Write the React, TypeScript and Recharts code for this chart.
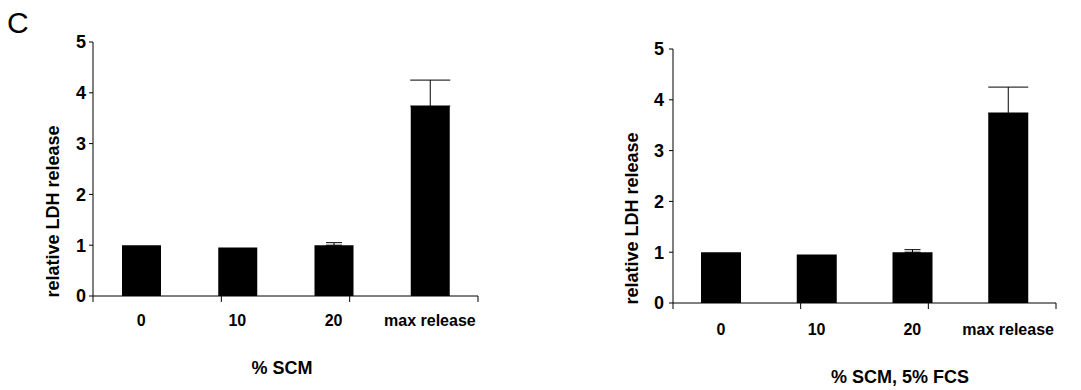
import React from 'react';
import { BarChart, Bar, XAxis, YAxis, ErrorBar } from 'recharts';

const categories = ['0', '10', '20', 'max release'];
const valuesA = [1.0, 0.955, 1.0, 3.74];
const smallErrA: (number[] | undefined)[] = [undefined, undefined, [0, 0.05], undefined];
const largeErrA: (number[] | undefined)[] = [undefined, undefined, undefined, [0, 0.51]];
const valuesB = [1.0, 0.955, 1.0, 3.74];
const smallErrB: (number[] | undefined)[] = [undefined, undefined, [0, 0.05], undefined];
const largeErrB: (number[] | undefined)[] = [undefined, undefined, undefined, [0, 0.51]];
const yTicks = [0, 1, 2, 3, 4, 5];
const boundaryTicks = [0, 1, 2, 3, 4];

const FONT = '"Liberation Sans", Arial, Helvetica, sans-serif';

const build = (vals: number[], s: (number[] | undefined)[], l: (number[] | undefined)[]) =>
  categories.map((c, i) => ({ cat: c, v: vals[i], es: s[i], el: l[i] }));

const dataA = build(valuesA, smallErrA, largeErrA);
const dataB = build(valuesB, smallErrB, largeErrB);

const YTick = (props: any) => {
  const { x, y, payload } = props;
  return (
    <text x={x} y={y} dy="0.36em" textAnchor="end" fill="#000" fontSize={18} fontWeight={700} fontFamily={FONT}>
      {payload.value}
    </text>
  );
};

const XTick = (props: any) => {
  const { x, y, payload } = props;
  return (
    <text x={x} y={y} dy="0.71em" textAnchor="middle" fill="#000" fontSize={16} fontWeight={700} fontFamily={FONT}>
      {payload.value}
    </text>
  );
};

type PanelProps = {
  data: any[];
  width: number;
  margin: { top: number; right: number; bottom: number; left: number };
  yAxisWidth: number;
  catHeight: number;
  catMargin: number;
  yTickMargin: number;
  barSize: number;
  xLabel: string;
  xLabelDx: number;
  xLabelOffset: number;
  yLabelDx: number;
  yLabelDy: number;
};

const Panel = (p: PanelProps) => (
  <BarChart width={p.width} height={390} data={p.data} margin={p.margin}>
    <XAxis
      xAxisId="a"
      type="number"
      domain={[0, 4]}
      ticks={boundaryTicks}
      interval={0}
      allowDataOverflow
      height={8}
      tickSize={6}
      tick={() => <g />}
      axisLine={{ stroke: '#000', strokeWidth: 1 }}
      tickLine={{ stroke: '#000', strokeWidth: 1 }}
    />
    <XAxis
      xAxisId="b"
      dataKey="cat"
      interval={0}
      height={p.catHeight}
      axisLine={false}
      tickLine={false}
      tickSize={0}
      tickMargin={p.catMargin}
      tick={<XTick />}
      label={{
        value: p.xLabel,
        position: 'insideBottom',
        offset: p.xLabelOffset,
        dx: p.xLabelDx,
        fill: '#000',
        fontSize: 18,
        fontWeight: 700,
        fontFamily: FONT,
      }}
    />
    <YAxis
      domain={[0, 5]}
      ticks={yTicks}
      interval={0}
      width={p.yAxisWidth}
      tickSize={4}
      tickMargin={p.yTickMargin}
      axisLine={{ stroke: '#000', strokeWidth: 1 }}
      tickLine={{ stroke: '#000', strokeWidth: 1 }}
      tick={<YTick />}
      label={{
        value: 'relative LDH release',
        angle: -90,
        position: 'center',
        dx: p.yLabelDx,
        dy: p.yLabelDy,
        fill: '#000',
        fontSize: 18,
        fontWeight: 700,
        fontFamily: FONT,
      }}
    />
    <Bar dataKey="v" xAxisId="b" fill="#000" barSize={p.barSize} isAnimationActive={false}>
      <ErrorBar dataKey="es" width={8} stroke="#000" strokeWidth={1} direction="y" />
      <ErrorBar dataKey="el" width={20} stroke="#000" strokeWidth={1} direction="y" />
    </Bar>
  </BarChart>
);

export default function App() {
  return (
    <div style={{ position: 'absolute', left: 0, top: 0, width: 1081, height: 390, background: '#fff' }}>
      <svg width={60} height={50} style={{ position: 'absolute', left: 0, top: 0 }}>
        <text x={7} y={33} fontSize={30} fontFamily={FONT} fill="#000">C</text>
      </svg>
      <div style={{ position: 'absolute', left: 0, top: 0 }}>
        <Panel
          data={dataA}
          width={540}
          margin={{ top: 42, right: 62, bottom: 6, left: 0 }}
          yAxisWidth={93}
          catHeight={80}
          catMargin={11}
          yTickMargin={3}
          barSize={39}
          xLabel="% SCM"
          xLabelDx={-3.5}
          xLabelOffset={10}
          yLabelDx={6.5}
          yLabelDy={42.5}
        />
      </div>
      <div style={{ position: 'absolute', left: 540, top: 0 }}>
        <Panel
          data={dataB}
          width={541}
          margin={{ top: 49, right: 25, bottom: 4, left: 0 }}
          yAxisWidth={133}
          catHeight={75}
          catMargin={13}
          yTickMargin={5}
          barSize={40}
          xLabel="% SCM, 5% FCS"
          xLabelDx={35.5}
          xLabelOffset={3}
          yLabelDx={25}
          yLabelDy={42.5}
        />
      </div>
    </div>
  );
}
